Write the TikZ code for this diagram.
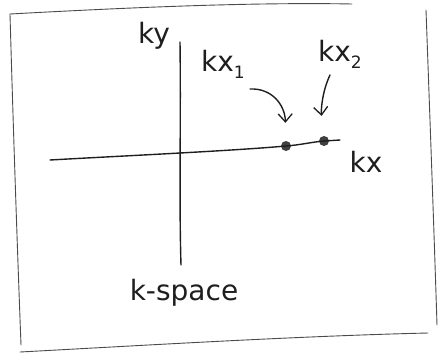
\documentclass[tikz,border=0pt]{standalone}
\usepackage{fontspec}
\setmainfont{DejaVu Sans}
\usetikzlibrary{arrows.meta}
\definecolor{ink}{HTML}{1E1E1E}
\newcommand{\lowsub}[1]{\raisebox{-7pt}{\fontsize{17}{20}\selectfont #1}}
\tikzset{
  pen/.style={draw=ink, line width=1.4pt, line cap=round, line join=round},
  thinpen/.style={draw=ink!80, line width=0.9pt, line cap=round},
  lbl/.style={text=ink, inner sep=0pt, font=\fontsize{28}{32}\selectfont},
  dot/.style={circle, fill=ink!85, inner sep=0pt, minimum size=10pt},
  pointer/.style={pen, -{Straight Barb[length=8pt,width=14pt,line width=1.3pt]}}
}
\begin{document}
\begin{tikzpicture}[x=1pt,y=-1pt]
\useasboundingbox (0,0) rectangle (442,360);
% hand-drawn frame
\draw[thinpen] (10,14) .. controls (120,8) and (250,2) .. (352,4);
\draw[thinpen] (10,14) .. controls (13,120) and (17,240) .. (21,345);
\draw[thinpen] (426,10) .. controls (430,120) and (434,230) .. (437,325);
\draw[thinpen] (20,352) .. controls (150,345) and (300,336) .. (428,333);
% axes
\coordinate (ytop) at (180,42);
\coordinate (ybot) at (181,265);
\draw[pen] (ytop) .. controls (181,120) and (179,200) .. (ybot);
\node[dot] (d1) at (286,146) {};
\node[dot] (d2) at (324,141) {};
\coordinate (xleft) at (50,160);
\coordinate (xright) at (340,140);
\draw[pen] (xleft) .. controls (120,156) and (230,151) .. (d1.center)
  .. controls (300,145) and (312,142) .. (d2.center) -- (xright);
% labels
\node[lbl] (ky) at (154,36) {ky};
\node[lbl] (kx1) at (223,64) {kx\lowsub{1}};
\node[lbl] (kx2) at (340,54) {kx\lowsub{2}};
\node[lbl] (kx) at (366,162) {kx};
\node[lbl] (ks) at (184,293) {k-space};
% pointers
\coordinate (a1) at (250,89);
\coordinate (a2) at (330,75);
\draw[pointer, shorten >=18pt] (a1) .. controls (272,88) and (285,105) .. (d1);
\draw[pointer, shorten >=20pt] (a2) .. controls (322,92) and (321,110) .. (d2);
\end{tikzpicture}
\end{document}
